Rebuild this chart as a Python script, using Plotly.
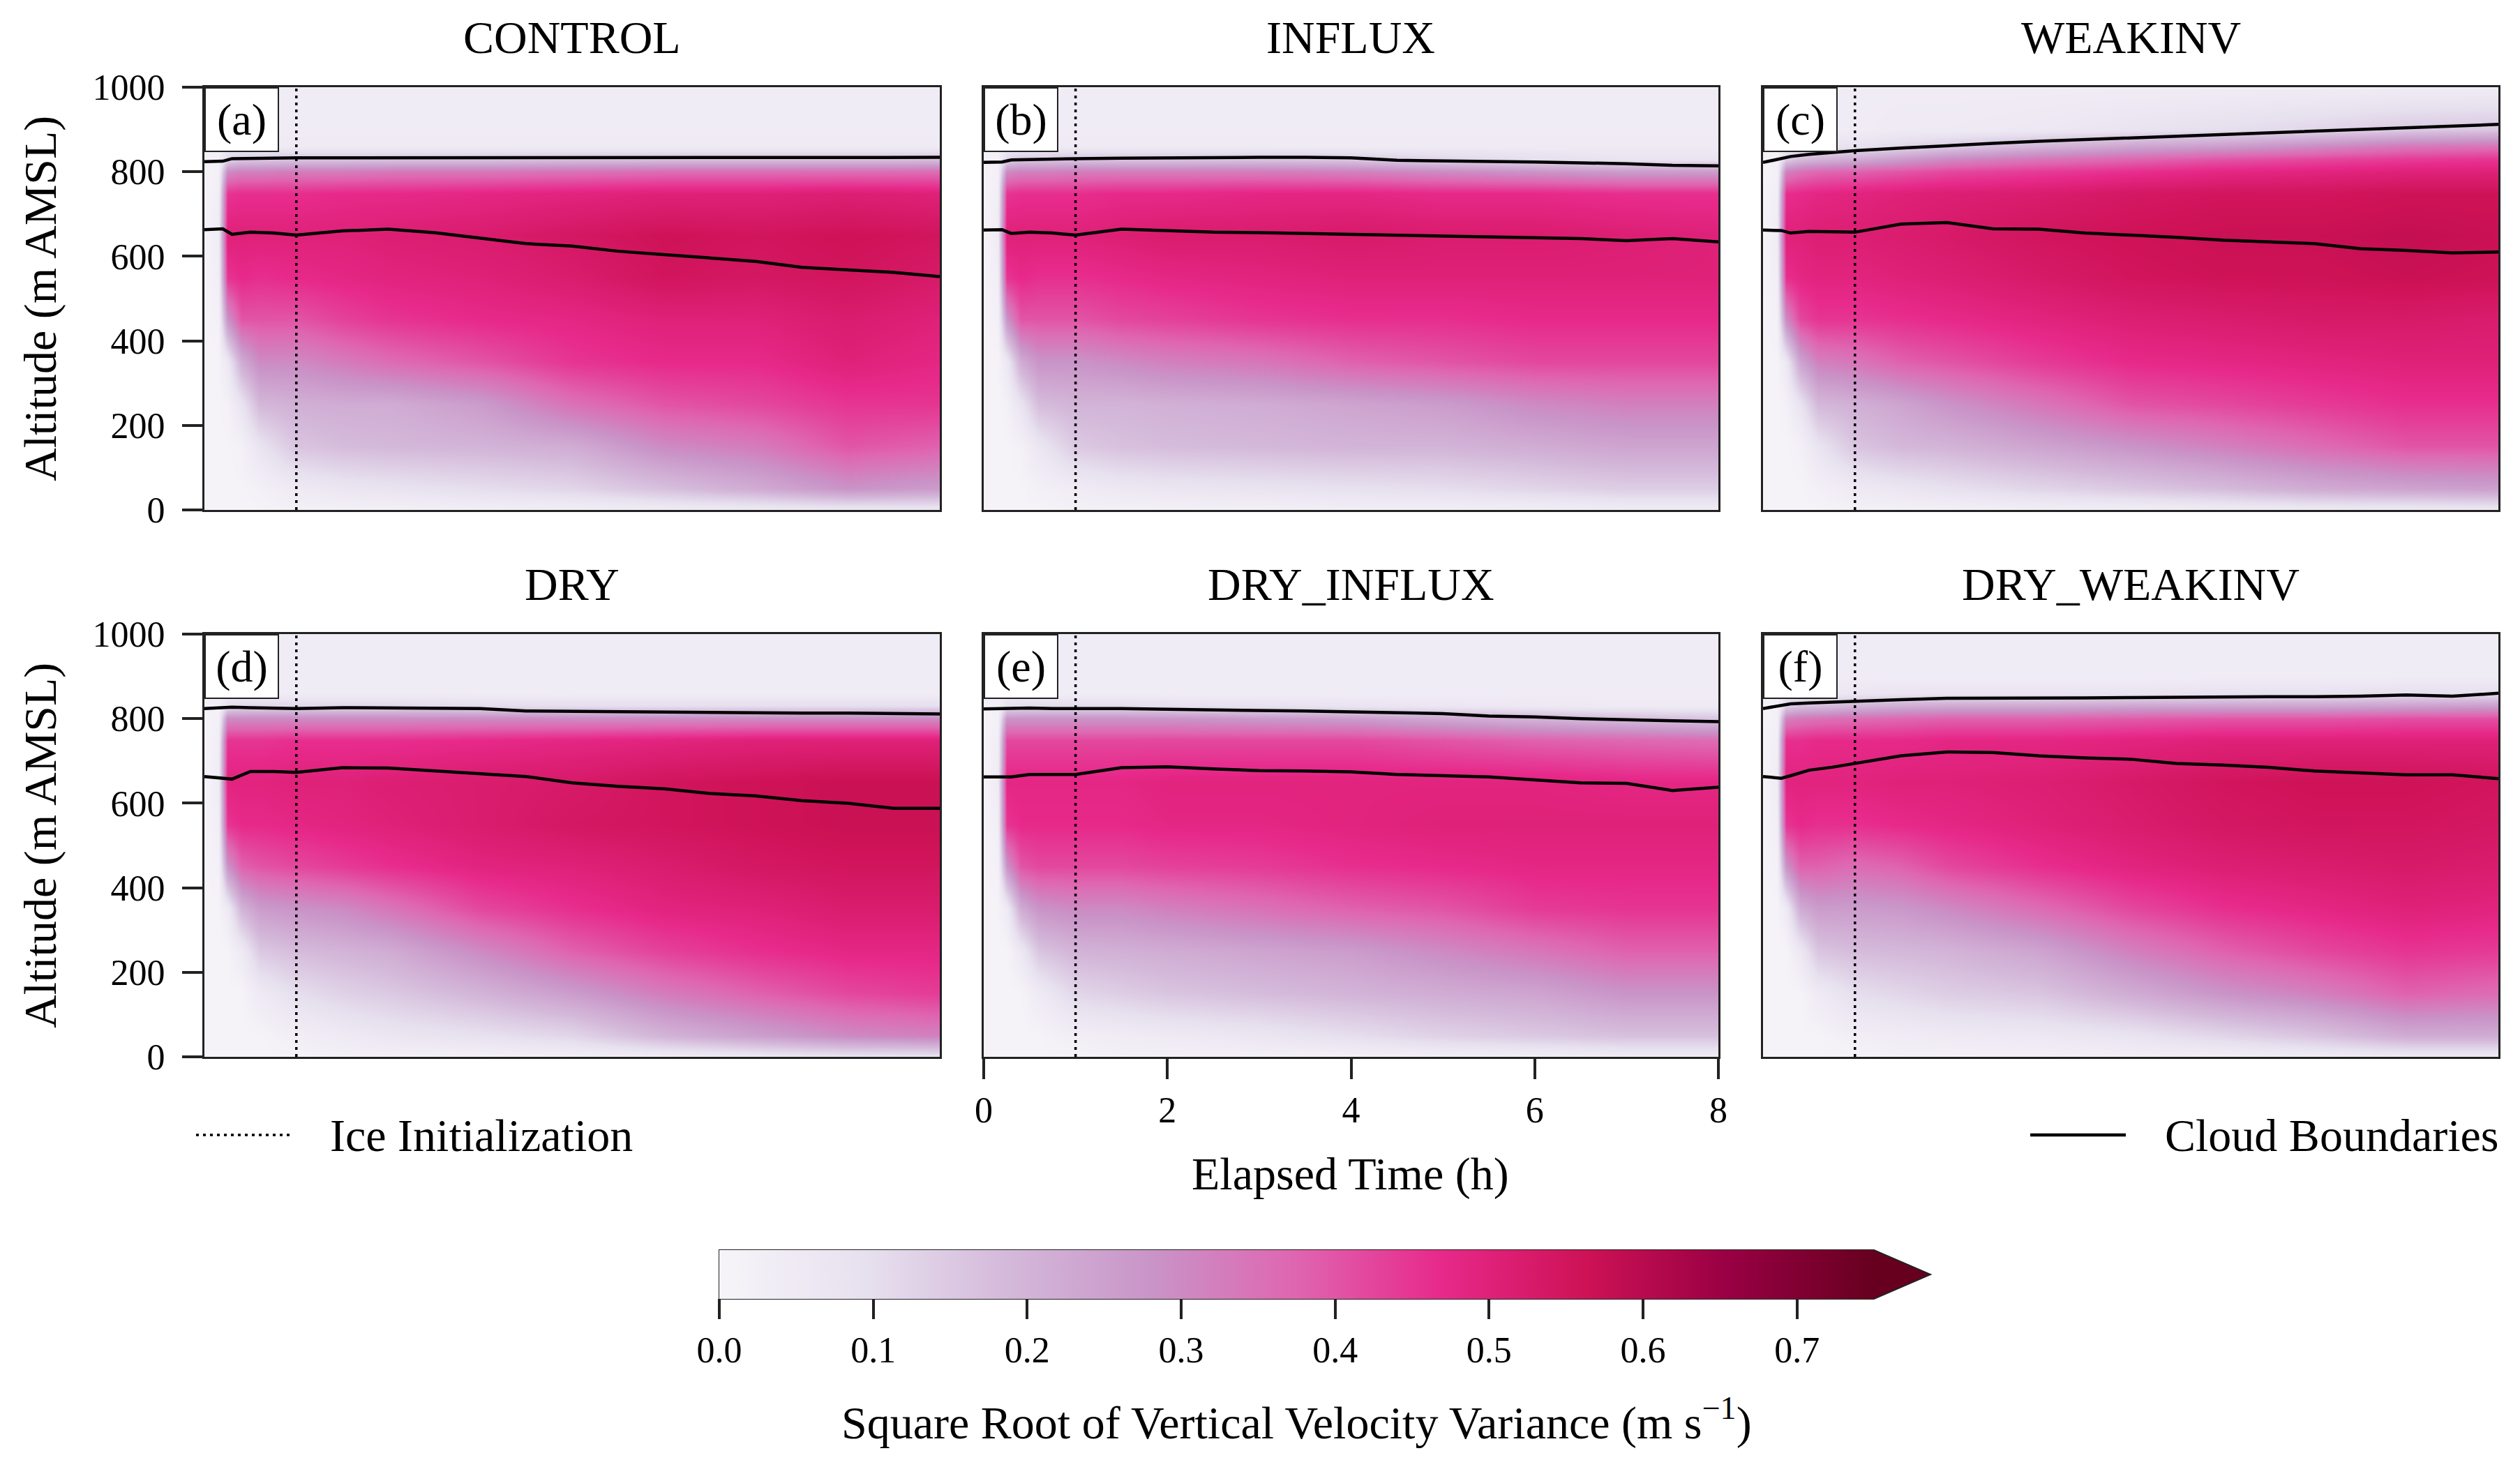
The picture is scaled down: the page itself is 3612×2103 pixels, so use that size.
import plotly.graph_objects as go
import plotly.express as px

W, H = 3612, 2103
PAGE_PAD = 8  # default body margin of the html page
FONT = "Liberation Serif"
PURD = px.colors.sequential.PuRd

# heatmap grid: elapsed time (h) x altitude (m AMSL)
hours = [0, 0.15, 0.25, 0.4, 0.6, 1, 1.5, 2, 3, 4, 5, 6, 7, 8]
levels = [0, 50, 150, 250, 350, 450, 550, 650, 750, 800, 830, 860, 900, 1000]

# sqrt of vertical velocity variance (m/s), one row per level
control_w = [
    [0.01, 0.01, 0.01, 0.01, 0.01, 0.02, 0.02, 0.02, 0.03, 0.03, 0.04, 0.05, 0.06, 0.06],
    [0.01, 0.01, 0.01, 0.01, 0.02, 0.05, 0.07, 0.08, 0.10, 0.12, 0.17, 0.22, 0.28, 0.26],
    [0.01, 0.01, 0.01, 0.02, 0.08, 0.16, 0.18, 0.19, 0.20, 0.22, 0.30, 0.33, 0.40, 0.38],
    [0.01, 0.01, 0.02, 0.08, 0.19, 0.21, 0.22, 0.22, 0.26, 0.35, 0.40, 0.42, 0.45, 0.45],
    [0.01, 0.01, 0.06, 0.22, 0.30, 0.30, 0.33, 0.36, 0.40, 0.45, 0.47, 0.47, 0.50, 0.48],
    [0.01, 0.02, 0.28, 0.40, 0.40, 0.40, 0.43, 0.45, 0.47, 0.48, 0.50, 0.50, 0.52, 0.50],
    [0.01, 0.03, 0.45, 0.47, 0.46, 0.47, 0.48, 0.49, 0.50, 0.52, 0.55, 0.54, 0.55, 0.53],
    [0.01, 0.04, 0.50, 0.50, 0.50, 0.50, 0.50, 0.51, 0.52, 0.54, 0.56, 0.55, 0.56, 0.55],
    [0.01, 0.03, 0.45, 0.46, 0.46, 0.46, 0.47, 0.47, 0.48, 0.49, 0.50, 0.50, 0.51, 0.50],
    [0.01, 0.02, 0.30, 0.32, 0.32, 0.33, 0.33, 0.34, 0.34, 0.35, 0.36, 0.36, 0.36, 0.36],
    [0.02, 0.02, 0.12, 0.15, 0.15, 0.16, 0.16, 0.16, 0.16, 0.17, 0.17, 0.17, 0.17, 0.17],
    [0.03, 0.03, 0.05, 0.05, 0.05, 0.05, 0.05, 0.05, 0.05, 0.05, 0.05, 0.05, 0.05, 0.05],
    [0.04, 0.04, 0.04, 0.04, 0.04, 0.04, 0.04, 0.04, 0.04, 0.04, 0.04, 0.04, 0.04, 0.04],
    [0.04, 0.04, 0.04, 0.04, 0.04, 0.04, 0.04, 0.04, 0.04, 0.04, 0.04, 0.04, 0.04, 0.04],
]
influx_w = [
    [0.01, 0.01, 0.01, 0.01, 0.01, 0.02, 0.02, 0.02, 0.02, 0.03, 0.03, 0.03, 0.04, 0.04],
    [0.01, 0.01, 0.01, 0.01, 0.02, 0.04, 0.06, 0.07, 0.08, 0.09, 0.10, 0.12, 0.14, 0.14],
    [0.01, 0.01, 0.01, 0.02, 0.07, 0.15, 0.17, 0.18, 0.19, 0.20, 0.20, 0.22, 0.24, 0.24],
    [0.01, 0.01, 0.02, 0.08, 0.18, 0.20, 0.20, 0.21, 0.22, 0.24, 0.26, 0.30, 0.32, 0.32],
    [0.01, 0.01, 0.06, 0.22, 0.28, 0.28, 0.30, 0.32, 0.34, 0.38, 0.40, 0.42, 0.42, 0.42],
    [0.01, 0.02, 0.28, 0.40, 0.40, 0.40, 0.42, 0.43, 0.45, 0.46, 0.46, 0.47, 0.47, 0.47],
    [0.01, 0.03, 0.45, 0.47, 0.46, 0.46, 0.47, 0.48, 0.49, 0.50, 0.50, 0.50, 0.50, 0.50],
    [0.01, 0.04, 0.50, 0.50, 0.50, 0.50, 0.51, 0.52, 0.52, 0.53, 0.52, 0.52, 0.51, 0.50],
    [0.01, 0.03, 0.45, 0.46, 0.46, 0.46, 0.47, 0.47, 0.48, 0.48, 0.47, 0.47, 0.46, 0.46],
    [0.01, 0.02, 0.30, 0.32, 0.32, 0.33, 0.33, 0.33, 0.33, 0.32, 0.30, 0.28, 0.26, 0.26],
    [0.02, 0.02, 0.12, 0.15, 0.15, 0.16, 0.16, 0.16, 0.16, 0.15, 0.12, 0.10, 0.08, 0.08],
    [0.03, 0.03, 0.05, 0.05, 0.05, 0.05, 0.05, 0.05, 0.05, 0.05, 0.05, 0.05, 0.05, 0.05],
    [0.04, 0.04, 0.04, 0.04, 0.04, 0.04, 0.04, 0.04, 0.04, 0.04, 0.04, 0.04, 0.04, 0.04],
    [0.04, 0.04, 0.04, 0.04, 0.04, 0.04, 0.04, 0.04, 0.04, 0.04, 0.04, 0.04, 0.04, 0.04],
]
weakinv_w = [
    [0.01, 0.01, 0.01, 0.01, 0.01, 0.02, 0.02, 0.02, 0.03, 0.03, 0.04, 0.05, 0.05, 0.06],
    [0.01, 0.01, 0.01, 0.01, 0.02, 0.05, 0.07, 0.09, 0.12, 0.15, 0.18, 0.22, 0.24, 0.25],
    [0.01, 0.01, 0.01, 0.02, 0.08, 0.16, 0.19, 0.20, 0.24, 0.28, 0.32, 0.36, 0.40, 0.40],
    [0.01, 0.01, 0.02, 0.08, 0.19, 0.21, 0.24, 0.28, 0.34, 0.40, 0.42, 0.44, 0.46, 0.46],
    [0.01, 0.01, 0.06, 0.24, 0.32, 0.34, 0.38, 0.40, 0.44, 0.47, 0.48, 0.49, 0.50, 0.50],
    [0.01, 0.02, 0.30, 0.42, 0.45, 0.45, 0.46, 0.47, 0.49, 0.51, 0.52, 0.53, 0.53, 0.52],
    [0.01, 0.03, 0.46, 0.48, 0.49, 0.49, 0.50, 0.51, 0.53, 0.55, 0.56, 0.56, 0.57, 0.56],
    [0.01, 0.04, 0.50, 0.50, 0.51, 0.51, 0.52, 0.53, 0.55, 0.56, 0.57, 0.57, 0.58, 0.57],
    [0.01, 0.03, 0.46, 0.47, 0.48, 0.49, 0.50, 0.51, 0.52, 0.54, 0.55, 0.55, 0.56, 0.56],
    [0.01, 0.02, 0.32, 0.35, 0.37, 0.38, 0.40, 0.42, 0.44, 0.46, 0.48, 0.49, 0.50, 0.50],
    [0.02, 0.02, 0.14, 0.18, 0.20, 0.22, 0.26, 0.30, 0.34, 0.37, 0.40, 0.42, 0.44, 0.45],
    [0.03, 0.03, 0.05, 0.07, 0.08, 0.09, 0.12, 0.15, 0.20, 0.24, 0.26, 0.30, 0.34, 0.35],
    [0.04, 0.04, 0.04, 0.04, 0.04, 0.04, 0.05, 0.05, 0.06, 0.08, 0.10, 0.12, 0.15, 0.16],
    [0.04, 0.04, 0.04, 0.04, 0.04, 0.04, 0.04, 0.04, 0.04, 0.04, 0.04, 0.04, 0.04, 0.04],
]
dry_w = [
    [0.01, 0.01, 0.01, 0.01, 0.01, 0.01, 0.02, 0.02, 0.02, 0.03, 0.04, 0.06, 0.08, 0.08],
    [0.01, 0.01, 0.01, 0.01, 0.01, 0.03, 0.05, 0.07, 0.09, 0.12, 0.20, 0.25, 0.30, 0.32],
    [0.01, 0.01, 0.01, 0.01, 0.05, 0.10, 0.13, 0.15, 0.20, 0.26, 0.33, 0.38, 0.42, 0.44],
    [0.01, 0.01, 0.01, 0.05, 0.15, 0.18, 0.20, 0.22, 0.30, 0.38, 0.43, 0.46, 0.48, 0.48],
    [0.01, 0.01, 0.05, 0.20, 0.26, 0.28, 0.30, 0.34, 0.42, 0.46, 0.49, 0.50, 0.52, 0.52],
    [0.01, 0.02, 0.28, 0.38, 0.40, 0.42, 0.44, 0.46, 0.49, 0.50, 0.52, 0.54, 0.55, 0.55],
    [0.01, 0.03, 0.45, 0.47, 0.47, 0.48, 0.49, 0.50, 0.52, 0.54, 0.55, 0.56, 0.57, 0.57],
    [0.01, 0.04, 0.49, 0.49, 0.49, 0.50, 0.50, 0.51, 0.52, 0.53, 0.55, 0.56, 0.57, 0.57],
    [0.01, 0.03, 0.45, 0.45, 0.45, 0.46, 0.46, 0.46, 0.47, 0.48, 0.49, 0.50, 0.50, 0.50],
    [0.01, 0.02, 0.30, 0.30, 0.30, 0.30, 0.30, 0.30, 0.30, 0.30, 0.30, 0.30, 0.30, 0.30],
    [0.02, 0.02, 0.10, 0.12, 0.12, 0.12, 0.12, 0.12, 0.11, 0.10, 0.10, 0.10, 0.10, 0.10],
    [0.03, 0.03, 0.04, 0.04, 0.04, 0.04, 0.04, 0.04, 0.04, 0.04, 0.04, 0.04, 0.04, 0.04],
    [0.04, 0.04, 0.04, 0.04, 0.04, 0.04, 0.04, 0.04, 0.04, 0.04, 0.04, 0.04, 0.04, 0.04],
    [0.04, 0.04, 0.04, 0.04, 0.04, 0.04, 0.04, 0.04, 0.04, 0.04, 0.04, 0.04, 0.04, 0.04],
]
dry_influx_w = [
    [0.01, 0.01, 0.01, 0.01, 0.01, 0.01, 0.02, 0.02, 0.02, 0.02, 0.03, 0.03, 0.04, 0.04],
    [0.01, 0.01, 0.01, 0.01, 0.01, 0.03, 0.04, 0.05, 0.07, 0.10, 0.13, 0.15, 0.17, 0.17],
    [0.01, 0.01, 0.01, 0.01, 0.05, 0.12, 0.14, 0.16, 0.18, 0.20, 0.22, 0.24, 0.28, 0.28],
    [0.01, 0.01, 0.01, 0.06, 0.16, 0.20, 0.21, 0.22, 0.24, 0.26, 0.30, 0.34, 0.38, 0.38],
    [0.01, 0.01, 0.05, 0.22, 0.28, 0.30, 0.30, 0.32, 0.35, 0.38, 0.40, 0.44, 0.45, 0.45],
    [0.01, 0.02, 0.28, 0.40, 0.42, 0.42, 0.42, 0.43, 0.44, 0.46, 0.47, 0.48, 0.48, 0.48],
    [0.01, 0.03, 0.45, 0.47, 0.47, 0.47, 0.47, 0.48, 0.48, 0.49, 0.50, 0.50, 0.50, 0.50],
    [0.01, 0.04, 0.48, 0.48, 0.48, 0.48, 0.48, 0.49, 0.49, 0.49, 0.49, 0.49, 0.48, 0.48],
    [0.01, 0.03, 0.42, 0.42, 0.42, 0.42, 0.42, 0.42, 0.42, 0.42, 0.40, 0.38, 0.37, 0.36],
    [0.01, 0.02, 0.28, 0.28, 0.28, 0.28, 0.28, 0.28, 0.27, 0.26, 0.23, 0.20, 0.18, 0.16],
    [0.02, 0.02, 0.10, 0.11, 0.11, 0.11, 0.11, 0.10, 0.09, 0.08, 0.07, 0.06, 0.05, 0.05],
    [0.03, 0.03, 0.04, 0.04, 0.04, 0.04, 0.04, 0.04, 0.04, 0.04, 0.04, 0.04, 0.04, 0.04],
    [0.04, 0.04, 0.04, 0.04, 0.04, 0.04, 0.04, 0.04, 0.04, 0.04, 0.04, 0.04, 0.04, 0.04],
    [0.04, 0.04, 0.04, 0.04, 0.04, 0.04, 0.04, 0.04, 0.04, 0.04, 0.04, 0.04, 0.04, 0.04],
]
dry_weakinv_w = [
    [0.01, 0.01, 0.01, 0.01, 0.01, 0.01, 0.02, 0.02, 0.02, 0.03, 0.03, 0.04, 0.05, 0.05],
    [0.01, 0.01, 0.01, 0.01, 0.01, 0.03, 0.04, 0.05, 0.06, 0.08, 0.12, 0.16, 0.22, 0.22],
    [0.01, 0.01, 0.01, 0.01, 0.05, 0.10, 0.12, 0.14, 0.16, 0.22, 0.28, 0.32, 0.38, 0.36],
    [0.01, 0.01, 0.01, 0.06, 0.16, 0.18, 0.19, 0.20, 0.24, 0.32, 0.38, 0.42, 0.45, 0.44],
    [0.01, 0.01, 0.05, 0.22, 0.26, 0.26, 0.27, 0.30, 0.36, 0.42, 0.46, 0.48, 0.50, 0.49],
    [0.01, 0.02, 0.28, 0.38, 0.38, 0.36, 0.38, 0.42, 0.46, 0.49, 0.51, 0.52, 0.53, 0.52],
    [0.01, 0.03, 0.45, 0.47, 0.46, 0.46, 0.47, 0.48, 0.50, 0.52, 0.54, 0.55, 0.55, 0.54],
    [0.01, 0.04, 0.49, 0.49, 0.49, 0.49, 0.50, 0.50, 0.51, 0.53, 0.55, 0.56, 0.56, 0.55],
    [0.01, 0.03, 0.46, 0.46, 0.47, 0.47, 0.47, 0.48, 0.48, 0.49, 0.50, 0.50, 0.50, 0.50],
    [0.01, 0.02, 0.32, 0.34, 0.35, 0.36, 0.37, 0.38, 0.38, 0.39, 0.40, 0.40, 0.41, 0.41],
    [0.02, 0.02, 0.14, 0.17, 0.18, 0.20, 0.22, 0.23, 0.23, 0.24, 0.24, 0.24, 0.25, 0.26],
    [0.03, 0.03, 0.05, 0.06, 0.06, 0.07, 0.08, 0.08, 0.08, 0.08, 0.09, 0.09, 0.10, 0.10],
    [0.04, 0.04, 0.04, 0.04, 0.04, 0.04, 0.04, 0.04, 0.04, 0.04, 0.04, 0.04, 0.04, 0.04],
    [0.04, 0.04, 0.04, 0.04, 0.04, 0.04, 0.04, 0.04, 0.04, 0.04, 0.04, 0.04, 0.04, 0.04],
]

# cloud top / cloud base altitude (m AMSL)
line_hours = [0, 0.2, 0.3, 0.5, 0.75, 1, 1.5, 2, 2.5, 3, 3.5, 4, 4.5, 5, 5.5, 6, 6.5, 7, 7.5, 8]
control_top = [824, 825, 831, 832, 832, 833, 833, 833, 833, 833, 833, 833, 833, 833, 833, 833, 834, 834, 834, 834]
control_base = [663, 665, 652, 657, 655, 650, 660, 664, 656, 643, 630, 624, 612, 604, 596, 588, 574, 568, 562, 552]
influx_top = [822, 823, 828, 829, 830, 831, 832, 833, 834, 834, 834, 833, 827, 826, 825, 823, 821, 819, 815, 814]
influx_base = [662, 663, 654, 657, 655, 650, 664, 660, 657, 656, 654, 652, 650, 648, 647, 645, 642, 637, 642, 634]
weakinv_top = [822, 832, 836, 841, 845, 850, 856, 862, 867, 872, 876, 880, 884, 888, 892, 896, 900, 904, 908, 912]
weakinv_base = [662, 661, 655, 659, 658, 657, 676, 680, 665, 664, 655, 650, 645, 638, 634, 630, 618, 614, 608, 610]
dry_top = [824, 825, 827, 826, 825, 824, 826, 825, 825, 824, 818, 817, 817, 816, 815, 813, 813, 813, 812, 811]
dry_base = [663, 660, 657, 675, 675, 673, 684, 683, 676, 670, 663, 648, 640, 634, 623, 617, 606, 600, 588, 588]
dry_influx_top = [823, 824, 825, 825, 824, 824, 824, 822, 821, 820, 818, 816, 814, 812, 806, 804, 800, 797, 795, 793]
dry_influx_base = [662, 661, 662, 668, 668, 668, 684, 686, 681, 677, 676, 674, 668, 665, 662, 655, 648, 647, 630, 638]
dry_weakinv_top = [824, 832, 835, 837, 839, 842, 845, 848, 848, 849, 849, 850, 851, 851, 852, 852, 853, 856, 853, 860]
dry_weakinv_base = [663, 659, 665, 678, 685, 694, 712, 721, 720, 712, 707, 704, 694, 690, 685, 676, 672, 667, 667, 658]

ice_init_hour = 1.0

titles = ["CONTROL", "INFLUX", "WEAKINV", "DRY", "DRY_INFLUX", "DRY_WEAKINV"]
letters = ["(a)", "(b)", "(c)", "(d)", "(e)", "(f)"]
grids = [control_w, influx_w, weakinv_w, dry_w, dry_influx_w, dry_weakinv_w]
tops = [control_top, influx_top, weakinv_top, dry_top, dry_influx_top, dry_weakinv_top]
bases = [control_base, influx_base, weakinv_base, dry_base, dry_influx_base, dry_weakinv_base]

alt_ticks = [0, 200, 400, 600, 800, 1000]
time_ticks = [0, 2, 4, 6, 8]
cbar_ticks = [0.0, 0.1, 0.2, 0.3, 0.4, 0.5, 0.6, 0.7]
VMAX = 0.75

# panel placement in page pixels
col_x = [(293, 1347), (1410, 2463), (2527, 3581)]
row_y = [(125, 731), (909, 1515)]

FW, FH = W - PAGE_PAD, H - PAGE_PAD


def fx(x):
    return (x - PAGE_PAD) / FW


def fy(y):
    return 1 - (y - PAGE_PAD) / FH


def label(x, y, text, size=66, **kw):
    fig.add_annotation(x=fx(x), y=fy(y), xref="paper", yref="paper", text=text,
                       showarrow=False, xanchor=kw.pop("xanchor", "center"),
                       yanchor="middle", font=dict(family=FONT, size=size, color="black"), **kw)


fig = go.Figure()

for i in range(6):
    r, c = divmod(i, 3)
    n = "" if i == 0 else str(i + 1)
    xa, ya = "x" + n, "y" + n

    fig.add_trace(go.Heatmap(x=hours, y=levels, z=grids[i], coloraxis="coloraxis",
                             zsmooth="best", xaxis=xa, yaxis=ya, hoverinfo="skip"))
    # Ice initialization
    fig.add_trace(go.Scatter(x=[ice_init_hour, ice_init_hour], y=[levels[0], levels[-1]],
                             mode="lines", line=dict(color="black", width=3.5, dash="4px,6px"),
                             xaxis=xa, yaxis=ya, showlegend=False))
    # Cloud boundaries
    for series in (tops[i], bases[i]):
        fig.add_trace(go.Scatter(x=line_hours, y=series, mode="lines",
                                 line=dict(color="black", width=4.5),
                                 xaxis=xa, yaxis=ya, showlegend=False))

    left_col = c == 0
    bottom_mid = (r == 1 and c == 1)
    fig.update_layout(**{
        "xaxis" + n: dict(domain=[fx(col_x[c][0]), fx(col_x[c][1])], anchor=ya,
                          range=[0, 8], showgrid=False, zeroline=False, automargin=False,
                          showline=True, mirror=True, linecolor="#222", linewidth=3,
                          tickvals=time_ticks if bottom_mid else [],
                          ticks="outside" if bottom_mid else "",
                          ticklen=29, tickwidth=4, tickcolor="#222",
                          showticklabels=bottom_mid, ticklabelstandoff=0,
                          tickfont=dict(family=FONT, size=52, color="black")),
        "yaxis" + n: dict(domain=[fy(row_y[r][1]), fy(row_y[r][0])], anchor=xa,
                          range=[0, 1000], showgrid=False, zeroline=False, automargin=False,
                          showline=True, mirror=True, linecolor="#222", linewidth=3,
                          tickvals=alt_ticks if left_col else [],
                          ticks="outside" if left_col else "",
                          ticklen=29, tickwidth=4, tickcolor="#222",
                          showticklabels=left_col, ticklabelstandoff=14,
                          tickfont=dict(family=FONT, size=52, color="black")),
    })

    # panel title
    label((col_x[c][0] + col_x[c][1]) / 2, row_y[r][0] - 72, titles[i])
    # panel letter box
    fig.add_annotation(x=0, y=1, xref=xa + " domain", yref=ya + " domain",
                       xanchor="left", yanchor="top", text=letters[i], showarrow=False,
                       width=103, height=89, borderpad=0, bgcolor="white",
                       bordercolor="#222", borderwidth=2,
                       font=dict(family=FONT, size=64, color="black"))

# y axis titles
for r in range(2):
    label(58, sum(row_y[r]) / 2, "Altitude (m AMSL)", textangle=-90)

# x axis title
label(1936, 1683, "Elapsed Time (h)")

# legend entries, drawn by hand
fig.add_shape(type="line", xref="paper", yref="paper", x0=fx(281), x1=fx(415),
              y0=fy(1627), y1=fy(1627), line=dict(color="black", width=3.5, dash="4px,6px"))
label(471, 1627, "Ice Initialization", xanchor="left")
fig.add_shape(type="line", xref="paper", yref="paper", x0=fx(2910), x1=fx(3047),
              y0=fy(1627), y1=fy(1627), line=dict(color="black", width=4.5))
label(3101, 1627, "Cloud Boundaries", xanchor="left")

# colorbar
cb_left, cb_right, cb_top, cb_bot, cb_tip = 1031, 2686, 1792, 1862, 2767
fig.update_layout(coloraxis=dict(
    colorscale=PURD, cmin=0, cmax=VMAX,
    colorbar=dict(orientation="h", lenmode="pixels", len=cb_right - cb_left,
                  thicknessmode="pixels", thickness=cb_bot - cb_top,
                  x=fx((cb_left + cb_right) / 2), xanchor="center",
                  y=fy(cb_top), yanchor="top", xpad=0, ypad=0,
                  outlinewidth=0,
                  tickvals=cbar_ticks, ticktext=[f"{v:.1f}" for v in cbar_ticks],
                  ticks="outside", ticklen=29, tickwidth=4, tickcolor="#222",
                  tickfont=dict(family=FONT, size=52, color="black")),
))
# extension triangle for values above the max
fig.add_shape(type="path", xref="paper", yref="paper",
              path=f"M {fx(cb_right)} {fy(cb_top)} L {fx(cb_tip)} {fy((cb_top + cb_bot) / 2)} "
                   f"L {fx(cb_right)} {fy(cb_bot)} Z",
              fillcolor=PURD[-1], line=dict(width=0))
fig.add_shape(type="path", xref="paper", yref="paper",
              path=f"M {fx(cb_left)} {fy(cb_top)} L {fx(cb_right)} {fy(cb_top)} "
                   f"L {fx(cb_tip)} {fy((cb_top + cb_bot) / 2)} L {fx(cb_right)} {fy(cb_bot)} "
                   f"L {fx(cb_left)} {fy(cb_bot)} Z",
              line=dict(color="#222", width=2))
label((cb_left + cb_right) / 2, 2035,
      "Square Root of Vertical Velocity Variance (m s<sup>\u22121</sup>)")

fig.update_layout(template="none", width=FW, height=FH,
                  margin=dict(l=0, r=0, t=0, b=0, pad=0, autoexpand=False),
                  paper_bgcolor="white", plot_bgcolor="white", showlegend=False,
                  font=dict(family=FONT, color="black"))

fig.write_html("out.html")
